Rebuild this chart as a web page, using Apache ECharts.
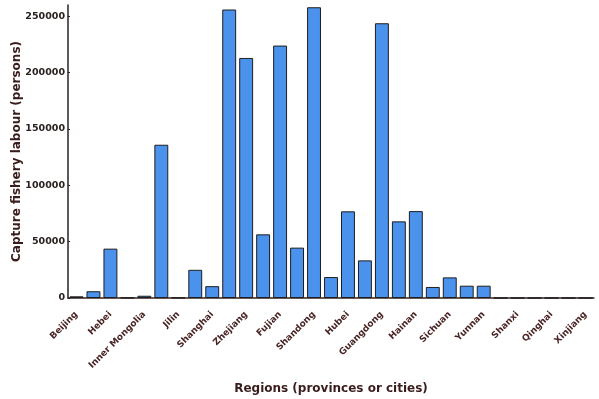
<!DOCTYPE html>
<html>
<head>
<meta charset="utf-8">
<script src="https://cdn.jsdelivr.net/npm/echarts@6/dist/echarts.min.js"></script>
<style>
  html, body { margin: 0; padding: 0; background: #fff; }
  #chart { width: 599px; height: 399px; }
</style>
</head>
<body>
<div id="chart"></div>
<script>
// 地区（省份或城市）
const regions = [
    'Beijing', 'Tianjin', 'Hebei', 'Shanxi', 'Inner Mongolia',
    'Liaoning', 'Jilin', 'Heilongjiang', 'Shanghai', 'Jiangsu',
    'Zhejiang', 'Anhui', 'Fujian', 'Jiangxi', 'Shandong',
    'Henan', 'Hubei', 'Hunan', 'Guangdong', 'Guangxi',
    'Hainan', 'Chongqing', 'Sichuan', 'Guizhou', 'Yunnan',
    'Tibet', 'Shanxi', 'Gansu', 'Qinghai', 'Ningxia', 'Xinjiang'
];

// 捕捞渔业劳动力（人）
const labour = [
    1500, 6000, 43800, 300, 2000,
    136000, 300, 25000, 10500, 256000,
    213000, 56500, 224000, 44700, 258000,
    18600, 76900, 33400, 243800, 68000,
    77100, 9800, 18300, 10900, 10900,
    0, 0, 0, 0, 0, 0
];

// y轴刻度
const yMin = 0;
const yMax = 260000;
const yStep = 50000;

const chart = echarts.init(document.getElementById('chart'));

const option = {
    animation: false,
    backgroundColor: '#fff',
    grid: {
        left: 68,
        right: 5,
        top: 5,
        bottom: 101,
        outerBoundsMode: 'none'
    },
    xAxis: {
        type: 'category',
        data: regions,
        name: 'Regions (provinces or cities)',
        nameLocation: 'middle',
        nameGap: 85,
        nameMoveOverlap: false,
        nameTextStyle: {
            fontFamily: 'DejaVu Sans',
            fontWeight: 'bold',
            fontSize: 12,
            color: '#3a1c1c'
        },
        axisLine: { lineStyle: { color: '#3a2222', width: 1.5 } },
        axisTick: { inside: true, length: 2, lineStyle: { color: '#3a2222' } },
        axisLabel: {
            interval: 1,
            rotate: 45,
            margin: 15,
            fontFamily: 'DejaVu Sans',
            fontWeight: 'bold',
            fontSize: 9,
            color: '#4a2424'
        }
    },
    yAxis: {
        type: 'value',
        min: yMin,
        max: yMax,
        interval: yStep,
        name: 'Capture fishery labour (persons)',
        nameLocation: 'middle',
        nameGap: 45,
        nameMoveOverlap: false,
        nameTextStyle: {
            fontFamily: 'DejaVu Sans',
            fontWeight: 'bold',
            fontSize: 12,
            color: '#3a1c1c'
        },
        axisLine: { show: true, lineStyle: { color: '#2a2222', width: 1.5 } },
        axisTick: { show: true, inside: true, length: 2, lineStyle: { color: '#2a2222' } },
        splitLine: { show: false },
        axisLabel: {
            showMaxLabel: false,
            margin: 3,
            formatter: function (v) { return String(v); },
            fontFamily: 'DejaVu Sans',
            fontWeight: 'bold',
            fontSize: 9.5,
            color: '#2a2020'
        }
    },
    series: [
        {
            type: 'bar',
            data: labour,
            barCategoryGap: '18%',
            itemStyle: {
                color: '#4b92ec',
                borderColor: '#1e1e1e',
                borderWidth: 1
            }
        }
    ]
};

chart.setOption(option);
</script>
</body>
</html>
